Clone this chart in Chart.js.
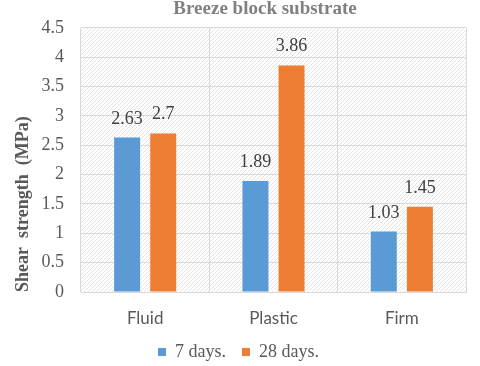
<!DOCTYPE html>
<html>
<head>
<meta charset="utf-8">
<script src="https://cdn.jsdelivr.net/npm/chart.js@4/dist/chart.umd.min.js"></script>
<style>
  html, body { margin: 0; padding: 0; background: #fff; }
  #wrap { width: 480px; height: 366px; }
</style>
</head>
<body>
<div id="wrap"><canvas id="shearChart" width="480" height="366"></canvas></div>
<script>
// ── Data ─────────────────────────────────────────────────────
const categories  = ['Fluid', 'Plastic', 'Firm'];
const days7       = [2.63, 1.89, 1.03];
const days28      = [2.7, 3.86, 1.45];
const seriesNames = ['7 days.', '28 days.'];
const chartTitle  = 'Breeze block substrate';
const yTitle      = 'Shear  strength  (MPa)';

const SERIF = "'Liberation Serif', 'Times New Roman', serif";
const SANS  = "Lato, 'Open Sans', sans-serif";

// ── Hatched plot background ──────────────────────────────────
function makeHatch() {
    const c = document.createElement('canvas');
    c.width = 4; c.height = 4;
    const g = c.getContext('2d');
    g.fillStyle = '#ffffff';
    g.fillRect(0, 0, 4, 4);
    g.strokeStyle = '#e4e4e4';
    g.lineWidth = 1;
    g.beginPath();
    g.moveTo(0, 4); g.lineTo(4, 0);
    g.moveTo(-1, 1); g.lineTo(1, -1);
    g.moveTo(3, 5); g.lineTo(5, 3);
    g.stroke();
    return g.createPattern(c, 'repeat');
}

const hatchBg = {
    id: 'hatchBg',
    beforeDraw(chart) {
        const { ctx, chartArea: a } = chart;
        ctx.save();
        ctx.fillStyle = makeHatch();
        ctx.fillRect(a.left, a.top, a.right - a.left, a.bottom - a.top);
        ctx.restore();
    }
};

// Title drawn over the top of the plot, like the original
const overTitle = {
    id: 'overTitle',
    afterDraw(chart) {
        const { ctx } = chart;
        ctx.save();
        ctx.font = 'bold 19px ' + SERIF;
        ctx.fillStyle = '#808080';
        ctx.textAlign = 'center';
        ctx.textBaseline = 'middle';
        ctx.fillText(chartTitle, 265, 9);
        ctx.restore();
    }
};

// Value labels above each bar
const valueLabels = {
    id: 'valueLabels',
    afterDatasetsDraw(chart) {
        const { ctx } = chart;
        ctx.save();
        ctx.font = '18px ' + SERIF;
        ctx.fillStyle = '#404040';
        ctx.textAlign = 'center';
        ctx.textBaseline = 'alphabetic';
        chart.data.datasets.forEach((ds, i) => {
            chart.getDatasetMeta(i).data.forEach((bar, j) => {
                ctx.fillText(String(ds.data[j]), bar.x, bar.y - 14);
            });
        });
        ctx.restore();
    }
};

new Chart(document.getElementById('shearChart'), {
    type: 'bar',
    data: {
        labels: categories,
        datasets: [
            { label: seriesNames[0], data: days7,  backgroundColor: '#5b9bd5' },
            { label: seriesNames[1], data: days28, backgroundColor: '#ed7d31' }
        ]
    },
    options: {
        responsive: false,
        animation: false,
        devicePixelRatio: 1,
        categoryPercentage: 0.5625,
        barPercentage: 0.72,
        layout: { padding: { top: 0, right: 14, left: 11, bottom: -5 } },
        scales: {
            x: {
                grid: { color: '#d9d9d9', drawTicks: false, offset: true },
                border: { color: '#d9d9d9' },
                ticks: { color: '#595959', font: { family: SANS, size: 17 }, padding: 16 },
                afterFit: s => { s.height = 35; }
            },
            y: {
                min: 0,
                max: 4.5,
                ticks: {
                    stepSize: 0.5,
                    color: '#595959',
                    font: { family: SERIF, size: 18 },
                    padding: 17,
                    callback: v => String(v)
                },
                grid: { color: '#d9d9d9', drawTicks: false },
                border: { display: false },
                title: {
                    display: true,
                    text: yTitle,
                    align: 'start',
                    color: '#595959',
                    font: { family: SERIF, size: 18, weight: 'bold' },
                    padding: 2
                },
                afterFit: s => { s.width = 70; }
            }
        },
        plugins: {
            legend: {
                position: 'bottom',
                labels: {
                    color: '#595959',
                    font: { family: SERIF, size: 18 },
                    boxWidth: 8,
                    boxHeight: 8,
                    padding: 16
                }
            },
            title: { display: false },
            tooltip: { enabled: false }
        }
    },
    plugins: [hatchBg, overTitle, valueLabels]
});
</script>
</body>
</html>
